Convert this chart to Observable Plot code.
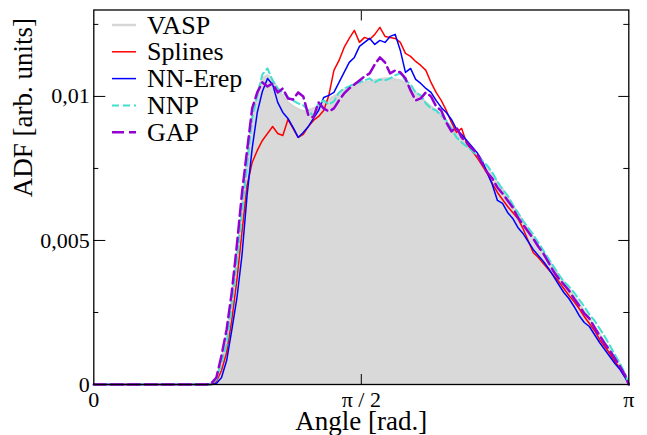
<!DOCTYPE html>
<html><head><meta charset="utf-8">
<script src="https://cdn.jsdelivr.net/npm/d3@7"></script>
<script src="https://cdn.jsdelivr.net/npm/@observablehq/plot@0.6"></script>
<style>
html,body{margin:0;padding:0;background:#fff;}
#chart{position:relative;width:647px;height:435px;}
#legend{position:absolute;left:0;top:0;pointer-events:none;}
</style></head><body><div id="chart"></div>
<script>
// ---- data (angle in rad, ADF in arb. units) ----
const angle = [0,
 0.60,0.63,0.66,0.69,0.72,0.75,0.78,0.81,0.84,0.87,
 0.90,0.93,0.96,0.99,1.02,1.05,1.08,1.11,1.14,1.17,
 1.20,1.23,1.26,1.29,1.32,1.35,1.38,1.41,1.44,1.47,
 1.50,1.53,1.56,1.59,1.62,1.65,1.68,1.71,1.74,1.77,
 1.80,1.83,1.86,1.89,1.92,1.95,1.98,2.01,2.04,2.07,
 2.10,2.13,2.16,2.19,2.22,2.25,2.28,2.31,2.34,2.37,
 2.40,2.43,2.46,2.49,2.52,2.55,2.58,2.61,2.64,2.67,
 2.70,2.73,2.76,2.79,2.82,2.85,2.88,2.91,2.94,2.97,
 3.00,3.03,3.06,3.09,3.12,
 Math.PI];

const vasp = [0,
 0,0,0,0.000035,0.000208,0.000833,0.001667,0.002917,0.004479,0.006042,
 0.007778,0.009236,0.010139,0.010625,0.010729,0.010556,0.010278,0.010000,0.009792,0.009653,
 0.009549,0.009479,0.009514,0.009583,0.009653,0.009757,0.009896,0.010000,0.010104,0.010208,
 0.010278,0.010347,0.010417,0.010486,0.010521,0.010556,0.010590,0.010625,0.010625,0.010590,
 0.010556,0.010451,0.010312,0.010139,0.009965,0.009792,0.009653,0.009514,0.009340,0.009132,
 0.008924,0.008715,0.008507,0.008333,0.008125,0.007917,0.007708,0.007500,0.007257,0.007014,
 0.006771,0.006493,0.006215,0.005938,0.005660,0.005382,0.005104,0.004826,0.004583,0.004306,
 0.004063,0.003785,0.003542,0.003299,0.003056,0.002813,0.002535,0.002292,0.002014,0.001736,
 0.001458,0.001181,0.000903,0.000625,0.000313,
 0];

const splines = [0,
 0,0,0,0,0.000104,0.000486,0.001111,0.002222,0.003611,0.005278,
 0.006910,0.007708,0.008125,0.008472,0.008715,0.008958,0.008715,0.008646,0.009201,0.008889,
 0.008576,0.008681,0.008958,0.009167,0.009306,0.009514,0.010035,0.010903,0.011250,0.011701,
 0.012014,0.012292,0.011875,0.012049,0.011979,0.012153,0.012396,0.012083,0.012049,0.012014,
 0.011875,0.011493,0.011389,0.011215,0.011076,0.010903,0.010486,0.010139,0.009861,0.009514,
 0.009097,0.008750,0.008889,0.008368,0.008125,0.007882,0.007604,0.007326,0.006979,0.006667,
 0.006424,0.006181,0.005972,0.005764,0.005417,0.005000,0.004583,0.004410,0.004201,0.003993,
 0.003785,0.003576,0.003333,0.003090,0.002882,0.002639,0.002361,0.002118,0.001875,0.001563,
 0.001319,0.001076,0.000799,0.000556,0.000243,
 0];

const nnErep = [0,
 0,0,0,0,0.000035,0.000243,0.000833,0.001875,0.002986,0.004479,
 0.006563,0.008194,0.009444,0.010174,0.010625,0.010417,0.009792,0.009444,0.009236,0.008924,
 0.008576,0.008750,0.008958,0.009236,0.009514,0.009965,0.010035,0.010139,0.010486,0.010833,
 0.011181,0.011354,0.011736,0.011875,0.012014,0.011806,0.011944,0.011875,0.012083,0.012153,
 0.011597,0.010833,0.010972,0.010590,0.010451,0.010278,0.010139,0.009861,0.009618,0.009444,
 0.009201,0.008854,0.008681,0.008472,0.008264,0.008056,0.007778,0.007361,0.006944,0.006389,
 0.006285,0.005972,0.005764,0.005451,0.005243,0.004965,0.004688,0.004479,0.004271,0.004028,
 0.003750,0.003472,0.003194,0.002986,0.002708,0.002396,0.002153,0.002014,0.001736,0.001458,
 0.001215,0.000972,0.000729,0.000521,0.000243,
 0];

const nnp = [0,
 0,0,0,0,0.000174,0.000764,0.001389,0.002743,0.004236,0.005972,
 0.007604,0.009236,0.010035,0.010764,0.010972,0.010556,0.010278,0.010139,0.009965,0.009861,
 0.009757,0.009688,0.009514,0.009306,0.009757,0.009861,0.009722,0.009826,0.010139,0.010278,
 0.010347,0.010451,0.010486,0.010556,0.010625,0.010486,0.010590,0.010556,0.010625,0.010729,
 0.010799,0.010556,0.010417,0.010139,0.010035,0.009757,0.009583,0.009514,0.009340,0.009167,
 0.008889,0.008576,0.008403,0.008264,0.008125,0.007951,0.007778,0.007604,0.007361,0.007049,
 0.006771,0.006563,0.006250,0.005972,0.005694,0.005451,0.005208,0.004931,0.004653,0.004375,
 0.004097,0.003819,0.003576,0.003403,0.003194,0.002951,0.002708,0.002431,0.002222,0.001944,
 0.001667,0.001354,0.001042,0.000729,0.000382,
 0];

const gap = [0,
 0,0,0,0.000035,0.000243,0.001007,0.001910,0.003194,0.004826,0.006632,
 0.008125,0.009583,0.010139,0.010486,0.010347,0.010451,0.010139,0.010278,0.009931,0.009896,
 0.010139,0.010000,0.009340,0.009271,0.009792,0.009583,0.009479,0.009583,0.009861,0.010104,
 0.010278,0.010417,0.010556,0.010694,0.010799,0.011111,0.011354,0.011181,0.010799,0.010903,
 0.010833,0.010625,0.010208,0.009861,0.009931,0.010139,0.010000,0.009653,0.009514,0.009097,
 0.008785,0.008924,0.008576,0.008403,0.008194,0.008021,0.007674,0.007361,0.007153,0.006840,
 0.006632,0.006389,0.006146,0.005799,0.005556,0.005313,0.005069,0.004792,0.004549,0.004236,
 0.003924,0.003681,0.003472,0.003264,0.002986,0.002743,0.002465,0.002292,0.001979,0.001701,
 0.001424,0.001181,0.000903,0.000625,0.000313,
 0];

const seriesNames = ["VASP", "Splines", "NN-Erep", "NNP", "GAP"];
const xTickValues = [0, Math.PI / 2, Math.PI];
const xTickLabels = ["0", "π / 2", "π"];
const yTickValues = [0, 0.005, 0.01];
const yTickLabels = ["0", "0,005", "0,01"];
const yMinorTicks = [0.0025, 0.0075, 0.0125];
const xTitle = "Angle [rad.]";
const yTitle = "ADF [arb. units]";

// ---- styles ----
const FONT = "'Liberation Serif', 'Times New Roman', serif";
const styles = {
  "VASP":    {stroke: "#d6d6d6", strokeWidth: 2.5},
  "Splines": {stroke: "#ff0000", strokeWidth: 1.5},
  "NN-Erep": {stroke: "#0000ff", strokeWidth: 1.5},
  "NNP":     {stroke: "#40e0d0", strokeWidth: 2, strokeDasharray: "7,4"},
  "GAP":     {stroke: "#9400d3", strokeWidth: 2.5, strokeDasharray: "12,5"}
};

const seriesValues = {"VASP": vasp, "Splines": splines, "NN-Erep": nnErep, "NNP": nnp, "GAP": gap};
const rowsFor = name => angle.map((a, i) => ({angle: a, value: seriesValues[name][i], series: name}));

const xLab = new Map(xTickValues.map((v, i) => [v, xTickLabels[i]]));
const yLab = new Map(yTickValues.map((v, i) => [v, yTickLabels[i]]));
const blank = () => "";

const W = 647, H = 435;
const mL = 93.3, mR = 18.7, mT = 9.5, mB = 51;

const chart = Plot.plot({
  width: W, height: H,
  marginLeft: mL, marginRight: mR, marginTop: mT, marginBottom: mB,
  x: {domain: [0, Math.PI]},
  y: {domain: [0, 0.013]},
  style: {fontFamily: FONT, background: "white", color: "black", overflow: "visible"},
  marks: [
    Plot.areaY(rowsFor("VASP"), {x: "angle", y: "value", fill: "#d9d9d9"}),
    ...seriesNames.map(n => Plot.line(rowsFor(n), {x: "angle", y: "value", ...styles[n]})),
    Plot.frame({stroke: "black", strokeWidth: 1.3}),
    // inward ticks
    Plot.axisY(yTickValues, {anchor: "left", tickSize: -12, tickFormat: blank, label: null}),
    Plot.axisY(yMinorTicks, {anchor: "left", tickSize: -5, tickFormat: blank, label: null}),
    Plot.axisY(yTickValues, {anchor: "right", tickSize: -11, tickFormat: blank, label: null}),
    Plot.axisY(yMinorTicks, {anchor: "right", tickSize: -6, tickFormat: blank, label: null}),
    Plot.axisX([Math.PI / 2], {anchor: "bottom", tickSize: -10, tickFormat: blank, label: null}),
    Plot.axisX([Math.PI / 2], {anchor: "top", tickSize: -10, tickFormat: blank, label: null}),
    // tick labels
    Plot.axisY(yTickValues, {anchor: "left", tickSize: 0, tickPadding: 4, fontSize: 22, tickFormat: d => yLab.get(d), label: null}),
    Plot.axisX(xTickValues, {anchor: "bottom", tickSize: 0, tickPadding: 7, fontSize: 22, tickFormat: d => xLab.get(d), label: null}),
    // titles
    Plot.text([xTitle], {frameAnchor: "bottom", dy: 37, fontSize: 27, lineAnchor: "middle", text: d => d}),
    Plot.text([yTitle], {frameAnchor: "left", dx: -70, rotate: -90, fontSize: 27, lineAnchor: "middle", text: d => d})
  ]
});
const container = document.getElementById("chart");
container.appendChild(chart);

// ---- legend (inside plot, top-left) ----
const lg = d3.select(container).append("svg").attr("id", "legend")
  .attr("width", W).attr("height", H);
seriesNames.forEach((n, i) => {
  const y = 25 + i * 26.8;
  const s = styles[n];
  lg.append("line").attr("x1", 112).attr("x2", 136).attr("y1", y).attr("y2", y)
    .attr("stroke", s.stroke).attr("stroke-width", s.strokeWidth)
    .attr("stroke-dasharray", s.strokeDasharray || null);
  lg.append("text").attr("x", 147).attr("y", y).attr("dy", "0.33em")
    .attr("font-family", FONT).attr("font-size", 26).attr("fill", "black").text(n);
});
</script></body></html>
